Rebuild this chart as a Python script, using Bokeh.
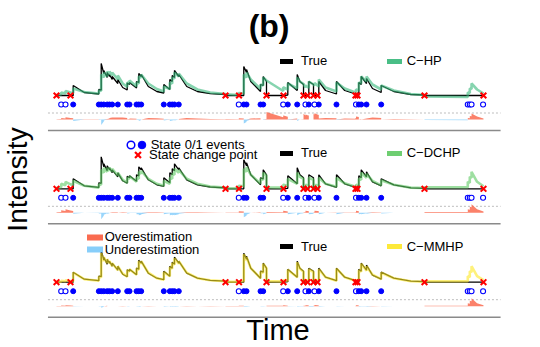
import numpy as np
from bokeh.plotting import figure
from bokeh.models import Range1d, Label, Legend, LegendItem, ColumnDataSource
from bokeh.embed import file_html
from bokeh.resources import INLINE

# ---------------- data (time in arbitrary units 0..100) ----------------
CHANGE_POINTS = [0.0, 3.28, 39.58, 42.74, 49.18, 53.16, 57.85, 58.78, 60.19, 61.12,
                 70.02, 70.49, 86.18, 100.0]
STATE0_EVENTS = [1.10, 2.11, 42.69, 53.09, 58.31, 60.42, 70.14, 96.32, 96.79, 97.20, 99.90]
STATE1_EVENTS = [3.91, 9.91, 10.47, 11.08, 11.87, 12.41, 13.04, 14.36, 16.56, 17.10,
                 18.74, 19.27, 19.84, 25.13, 26.54, 27.10, 27.63, 28.64, 43.86, 44.50,
                 47.78, 48.41, 54.17, 56.37, 59.09, 61.43, 65.57, 70.80, 71.36, 72.60, 76.04]

GRID_T = [0.0, 1.10, 1.10, 2.11, 2.11, 3.28, 3.91, 3.91, 6.5, 9.91, 9.91, 10.47, 10.47,
          11.08, 11.08, 11.87, 11.87, 12.41, 12.41, 13.04, 13.04, 14.36, 14.36, 15.5,
          16.56, 16.56, 17.10, 17.10, 18.74, 18.74, 19.27, 19.27, 19.84, 19.84, 21.5,
          23.5, 25.13, 25.13, 26.54, 26.54, 27.10, 27.10, 27.63, 27.63, 28.64, 28.64,
          30.5, 33.0, 36.0, 39.58, 39.58, 42.69, 42.69, 42.74, 43.86, 43.86, 44.50,
          44.50, 45.5, 47.78, 47.78, 48.41, 48.41, 49.18, 49.18, 53.09, 53.09, 53.16,
          54.17, 54.17, 56.37, 56.37, 57.0, 57.85, 57.85, 58.31, 58.31, 58.78, 59.09,
          59.09, 60.19, 60.19, 60.42, 60.42, 61.12, 61.43, 61.43, 63.0, 65.57, 65.57,
          67.5, 70.02, 70.02, 70.14, 70.14, 70.49, 70.80, 70.80, 71.36, 71.36, 72.60,
          72.60, 74.0, 76.04, 76.04, 79.0, 83.0, 86.18, 86.18, 96.32, 96.32, 96.79,
          96.79, 97.20, 97.20, 98.5, 100.0]
TRUE_V = [0.5, 0.5, 0.5, 0.5, 0.5, 0.5, 0.5, 1.5, 0.8, 0.65, 1.1, 1.05, 3.7,
          2.7, 3.0, 2.3, 2.8, 2.4, 2.6, 2.1, 2.4, 1.7, 2.1, 1.3,
          1.05, 1.75, 1.6, 1.8, 1.25, 1.9, 1.8, 2.7, 2.4, 2.6, 1.4,
          0.9, 0.75, 1.6, 1.1, 2.1, 1.9, 2.5, 2.3, 3.0, 2.4, 2.6,
          1.4, 0.9, 0.68, 0.6, 0.5, 0.5, 0.5, 0.5, 0.5, 3.4, 2.8,
          3.1, 1.9, 0.9, 1.6, 1.5, 2.4, 1.9, 0.5, 0.5, 0.5, 0.5,
          0.55, 1.8, 1.0, 2.6, 1.9, 1.6, 0.5, 0.5, 0.5, 0.5, 0.5,
          1.9, 1.6, 0.5, 0.5, 0.5, 0.5, 0.5, 1.9, 1.0, 0.65, 1.9,
          1.0, 0.65, 0.5, 0.5, 0.5, 0.5, 0.5, 1.8, 1.6, 2.4, 1.7,
          2.2, 1.2, 0.8, 1.5, 0.9, 0.6, 0.55, 0.5, 0.5, 0.5, 0.5,
          0.5, 0.5, 0.5, 0.5, 0.5]
HP_V = [0.55, 0.6, 0.8, 0.7, 0.95, 0.8, 0.75, 1.2, 0.85, 0.7, 1.0, 0.98, 2.6,
        2.3, 2.8, 2.4, 2.9, 2.6, 2.9, 2.5, 2.8, 2.1, 2.5, 1.7,
        1.35, 1.8, 1.7, 2.0, 1.4, 1.8, 1.7, 2.4, 2.3, 2.6, 1.7,
        1.15, 0.9, 1.4, 1.15, 1.8, 1.7, 2.3, 2.2, 2.8, 2.4, 2.7,
        1.7, 1.1, 0.8, 0.65, 0.62, 0.55, 0.75, 0.75, 0.7, 2.6, 2.3,
        2.8, 2.1, 1.15, 1.6, 1.5, 2.3, 2.0, 2.0, 0.95, 1.3, 1.3,
        1.1, 1.7, 1.2, 2.3, 1.9, 1.65, 1.65, 1.3, 1.5, 1.35, 1.3,
        1.9, 1.6, 1.6, 1.5, 1.75, 1.5, 1.4, 2.1, 1.3, 0.9, 1.8,
        1.2, 0.8, 0.8, 0.8, 1.1, 1.05, 1.0, 1.8, 1.7, 2.4, 1.9,
        2.4, 1.6, 1.1, 1.5, 1.0, 0.65, 0.55, 0.4, 0.35, 0.8, 0.75,
        1.2, 1.15, 1.7, 1.1, 0.7]
DCHP_V = [0.6, 0.65, 1.0, 0.85, 1.2, 0.95, 0.85, 1.3, 0.8, 0.62, 0.95, 0.92, 2.4,
          2.1, 2.6, 2.2, 2.6, 2.3, 2.6, 2.2, 2.5, 1.8, 2.1, 1.4,
          1.1, 1.6, 1.5, 1.75, 1.2, 1.6, 1.5, 2.2, 2.0, 2.3, 1.5,
          1.0, 0.8, 1.3, 1.0, 1.6, 1.5, 2.0, 1.9, 2.5, 2.1, 2.4,
          1.5, 1.0, 0.72, 0.62, 0.55, 0.55, 0.8, 0.8, 0.75, 2.5, 2.2,
          2.7, 1.9, 1.0, 1.5, 1.4, 2.1, 1.8, 0.65, 0.62, 0.9, 0.9,
          0.8, 1.5, 1.0, 2.1, 1.7, 1.5, 0.6, 0.6, 0.9, 0.85, 0.8,
          1.6, 1.4, 0.6, 0.6, 0.9, 0.85, 0.8, 1.6, 1.0, 0.7, 1.6,
          1.05, 0.7, 0.6, 0.6, 0.9, 0.85, 0.8, 1.5, 1.4, 2.1, 1.6,
          2.0, 1.3, 0.85, 1.35, 0.9, 0.62, 0.58, 0.65, 0.65, 1.2, 1.1,
          1.7, 1.6, 2.2, 1.2, 0.75]
MMHP_V = [0.55, 0.55, 0.65, 0.6, 0.7, 0.62, 0.6, 1.45, 0.8, 0.65, 1.05, 1.0, 3.4,
          2.6, 3.0, 2.4, 2.8, 2.4, 2.6, 2.1, 2.4, 1.7, 2.1, 1.35,
          1.05, 1.7, 1.55, 1.8, 1.25, 1.85, 1.75, 2.6, 2.35, 2.6, 1.45,
          0.9, 0.75, 1.5, 1.1, 2.0, 1.85, 2.4, 2.25, 2.9, 2.35, 2.6,
          1.45, 0.9, 0.7, 0.6, 0.55, 0.55, 0.6, 0.6, 0.6, 3.3, 2.7,
          3.0, 1.9, 0.9, 1.55, 1.45, 2.35, 1.9, 0.6, 0.58, 0.7, 0.7,
          0.65, 1.75, 1.0, 2.5, 1.85, 1.55, 0.6, 0.6, 0.7, 0.7, 0.65,
          1.8, 1.5, 0.6, 0.6, 0.75, 0.7, 0.65, 1.8, 1.0, 0.65, 1.85,
          1.0, 0.65, 0.6, 0.6, 0.7, 0.7, 0.65, 1.7, 1.55, 2.35, 1.65,
          2.1, 1.25, 0.8, 1.45, 0.9, 0.6, 0.55, 0.6, 0.6, 1.1, 1.0,
          1.6, 1.5, 2.1, 1.1, 0.7]

TIME_LIMITS = [-2.0, 104.0]
MODELS = ["C\u2212HP", "C\u2212DCHP", "C\u2212MMHP"]
ESTIMATES = [HP_V, DCHP_V, MMHP_V]
MODEL_COLORS = ["#35b779", "#5ec962", "#fde725"]

# ---------------- layout constants (page pixels) ----------------
W, H = 540, 347
X_T0, X_PX_PER_T = 56.0, 4.27      # page x of t=0 and px per time unit
BASE_Y = [95.0, 188.3, 281.7]      # page y of the intensity baseline per panel
PXU = 10.0                         # px per intensity unit
DIFF_PXU = 5.0
LAMBDA0 = 0.5
ROW_EVENTS = -0.4
ROW_DASH = -1.25
ROW_SEP = -3.0
FONT = "Liberation Sans"
BASE_SHIFT = 0.35                  # em shift of bokeh's alphabetic baseline

p = figure(width=W, height=H, output_backend="svg", toolbar_location=None,
           x_axis_type=None, y_axis_type=None, min_border=0, title=None,
           outline_line_color=None,
           x_range=Range1d(-X_T0 / X_PX_PER_T, (W - X_T0) / X_PX_PER_T),
           y_range=Range1d(0, H), background_fill_color="white",
           border_fill_color="white")

ranges = {}
for k, by in enumerate(BASE_Y):
    ranges[f"p{k}"] = Range1d(LAMBDA0 - (H - by) / PXU, LAMBDA0 + by / PXU)
    dy = by + 24.0
    ranges[f"d{k}"] = Range1d(-(H - dy) / DIFF_PXU, dy / DIFF_PXU)
p.extra_y_ranges = ranges

t = np.array(GRID_T)
true_v = np.array(TRUE_V)

for k in range(3):
    pr, dr = f"p{k}", f"d{k}"
    est = np.array(ESTIMATES[k])
    diff = est - true_v
    src = ColumnDataSource(dict(t=t, true=true_v, est=est,
                                pos=np.maximum(diff, 0), neg=np.minimum(diff, 0),
                                zero=np.zeros_like(t)))
    p.line(x=TIME_LIMITS, y=[ROW_DASH, ROW_DASH], y_range_name=pr,
           line_color="#bdbdbd", line_width=1, line_dash="2 2")
    p.line(x=TIME_LIMITS, y=[ROW_SEP, ROW_SEP], y_range_name=pr,
           line_color="#8a8a8a", line_width=1.5)
    p.varea(x="t", y1="zero", y2="pos", source=src, y_range_name=dr,
            fill_color="#fa6b50", fill_alpha=0.85)
    p.varea(x="t", y1="zero", y2="neg", source=src, y_range_name=dr,
            fill_color="#87cefa", fill_alpha=0.85)
    p.line(x="t", y="true", source=src, y_range_name=pr, line_color="black", line_width=1.3)
    p.line(x="t", y="est", source=src, y_range_name=pr, line_color=MODEL_COLORS[k],
           line_width=2.6, line_alpha=0.6)
    p.scatter(x=STATE0_EVENTS, y=[ROW_EVENTS] * len(STATE0_EVENTS), y_range_name=pr,
              marker="circle", size=5, line_color="blue", fill_color="white", line_width=1.1)
    p.scatter(x=STATE1_EVENTS, y=[ROW_EVENTS] * len(STATE1_EVENTS), y_range_name=pr,
              marker="circle", size=5, line_color="blue", fill_color="blue")
    p.scatter(x=CHANGE_POINTS, y=[LAMBDA0] * len(CHANGE_POINTS), y_range_name=pr,
              marker="x", size=8, line_color="red", line_width=2)

# legend-only renderers (a single NaN point so the legend glyph has visuals)
NAN = [float("nan")]
open_leg = p.scatter(x=NAN, y=NAN, marker="circle", line_color="blue",
                     fill_color="white", line_width=1.5)
fill_leg = p.scatter(x=NAN, y=NAN, marker="circle", line_color="blue", fill_color="blue")
cp_leg = p.scatter(x=NAN, y=NAN, marker="x", line_color="red", line_width=2.2)


def add_legend(renderer, label, x0, yc, gw, gh, standoff):
    ih = max(gh, 15)
    leg = Legend(items=[LegendItem(label=label, renderers=[renderer])],
                 location=(x0, H - yc - ih / 2),
                 label_text_font=FONT, label_text_font_size="13px",
                 label_text_color="black",
                 glyph_width=gw, glyph_height=gh, label_height=12, label_width=5,
                 label_standoff=standoff, padding=0, margin=0, spacing=0,
                 background_fill_alpha=0, border_line_alpha=0)
    p.add_layout(leg)


true_dummy = p.line(x=NAN, y=NAN, line_color="black", line_width=5, line_cap="round")
LEG_Y = [60.7, 152.7, 246.0]
for k in range(3):
    est_dummy = p.line(x=NAN, y=NAN, line_color=MODEL_COLORS[k], line_width=5,
                       line_cap="round", line_alpha=0.9)
    add_legend(true_dummy, "True", 280, LEG_Y[k], 13, 12, 8)
    add_legend(est_dummy, MODELS[k], 386.7, LEG_Y[k], 15, 12, 5)

add_legend(open_leg, " ", 130.3 - 9.5, 144, 19, 19, 0)
add_legend(fill_leg, "State 0/1 events", 141.2 - 9.5, 144, 19, 19, 0)
add_legend(cp_leg, "State change point", 137.5 - 10.5, 154.5, 21, 21, 1)

over_dummy = p.line(x=NAN, y=NAN, line_color="#fa6b50", line_width=6, line_cap="round")
under_dummy = p.line(x=NAN, y=NAN, line_color="#87cefa", line_width=6, line_cap="round")
add_legend(over_dummy, "Overestimation", 86.7, 236.7, 16, 12, 2)
add_legend(under_dummy, "Underestimation", 86.7, 249.3, 16, 12, 2)


def add_text(text, x, baseline_y, size, style="normal", angle=0.0):
    shift = BASE_SHIFT * size
    if angle == 0.0:
        lx, ly = x, H - baseline_y + shift
    else:
        lx, ly = baseline_y - shift, H - x
    p.add_layout(Label(x=lx, y=ly, x_units="screen", y_units="screen", text=text,
                       angle=angle, text_font=FONT, text_font_size=f"{size}px",
                       text_font_style=style, text_color="black", text_align="center",
                       text_baseline="alphabetic"))


add_text("(b)", 268.6, 36.7, 32, style="bold")
add_text("Time", 277.5, 339.3, 29)
# rotated: first arg = page y of centre, second = page x of baseline
add_text("Intensity", 179.0, 26.7, 28, angle=np.pi / 2)

open("out.html", "w").write(file_html(p, INLINE))
